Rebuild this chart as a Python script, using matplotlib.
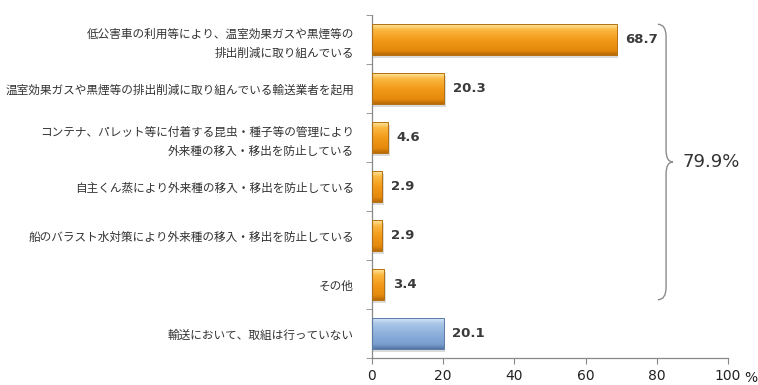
import matplotlib
matplotlib.use("Agg")
import matplotlib.pyplot as plt
import numpy as np
from matplotlib.colors import LinearSegmentedColormap
from matplotlib.path import Path
from matplotlib.patches import PathPatch

plt.rcParams['font.family'] = ['Noto Sans CJK JP', 'DejaVu Sans']

categories = [
    "低公害車の利用等により、温室効果ガスや黒煙等の\n排出削減に取り組んでいる",
    "温室効果ガスや黒煙等の排出削減に取り組んでいる輸送業者を起用",
    "コンテナ、パレット等に付着する昆虫・種子等の管理により\n外来種の移入・移出を防止している",
    "自主くん蒸により外来種の移入・移出を防止している",
    "船のバラスト水対策により外来種の移入・移出を防止している",
    "その他",
    "輸送において、取組は行っていない",
]
values = [68.7, 20.3, 4.6, 2.9, 2.9, 3.4, 20.1]
series_kind = ["orange"] * 6 + ["blue"]
total_label = "79.9%"
x_ticks = [0, 20, 40, 60, 80, 100]

orange_cmap = LinearSegmentedColormap.from_list(
    "orange_bar", [(0.0, "#FFE7A0"), (0.18, "#FBB840"), (0.5, "#F39A1A"),
                   (0.85, "#E58A0C"), (1.0, "#B86A06")])
blue_cmap = LinearSegmentedColormap.from_list(
    "blue_bar", [(0.0, "#D6E6F7"), (0.18, "#A9C6E8"), (0.5, "#8DB0DC"),
                 (0.85, "#7A9FCF"), (1.0, "#5677A6")])
edge_colors = {"orange": "#B5700F", "blue": "#5A7BAA"}
cmaps = {"orange": orange_cmap, "blue": blue_cmap}

fig = plt.figure(figsize=(7.58, 3.85), dpi=100)
ax = fig.add_axes([372 / 758, 1 - 358 / 385, 356 / 758, 343 / 385])

bar_h = 0.62
ys = np.arange(len(values))
grad = np.linspace(0, 1, 64).reshape(-1, 1)
for y, v, kind in zip(ys, values, series_kind):
    # soft drop shadow behind each bar
    ax.add_patch(plt.Rectangle((0.4, y - bar_h / 2 + 0.06), v, bar_h,
                               facecolor="#999999", alpha=0.35,
                               edgecolor="none", zorder=1))
    # vertical gradient fill for the bevelled look
    ax.imshow(grad, cmap=cmaps[kind], aspect="auto", interpolation="bilinear",
              extent=(0, v, y + bar_h / 2, y - bar_h / 2), zorder=2)
    ax.add_patch(plt.Rectangle((0, y - bar_h / 2), v, bar_h, facecolor="none",
                               edgecolor=edge_colors[kind], linewidth=0.7, zorder=3))
    ax.text(v + 2.4, y, f"{v:.1f}", va="center", ha="left", fontsize=9.5,
            fontweight="bold", color="#3A3A3A", family="DejaVu Sans")

ax.set_xlim(0, 100)
ax.set_ylim(len(values) - 0.5, -0.5)

ax.set_yticks(ys)
ax.set_yticklabels(categories, fontsize=8.4, color="#333333", linespacing=1.6)
ax.tick_params(axis="y", which="major", length=0, pad=13)
ax.set_yticks(np.arange(len(values) + 1) - 0.5, minor=True)
ax.tick_params(axis="y", which="minor", length=4, color="#888888", direction="out")

ax.set_xticks(x_ticks)
ax.set_xticklabels([str(t) for t in x_ticks], fontsize=10, color="#222222",
                   family="DejaVu Sans")
ax.tick_params(axis="x", length=4, color="#888888", direction="out", pad=4)

for s in ["top", "right"]:
    ax.spines[s].set_visible(False)
for s in ["left", "bottom"]:
    ax.spines[s].set_color("#888888")
    ax.spines[s].set_linewidth(0.9)

ax.text(104.6, len(values) - 0.5 + 0.27, "%", fontsize=10, color="#222222",
        va="top", ha="left", clip_on=False, family="DejaVu Sans")

# brace grouping the orange bars
top = -bar_h / 2
bot = 5 + bar_h / 2
mid = (top + bot) / 2
x0, x1, x2 = 80.3, 82.6, 84.5
c = 0.25
verts = [
    (x0, top), (x1, top), (x1, top + c),
    (x1, mid - c), (x1, mid), (x2, mid),
    (x1, mid), (x1, mid + c),
    (x1, bot - c), (x1, bot), (x0, bot),
]
codes = [Path.MOVETO, Path.CURVE3, Path.CURVE3,
         Path.LINETO, Path.CURVE3, Path.CURVE3,
         Path.CURVE3, Path.CURVE3,
         Path.LINETO, Path.CURVE3, Path.CURVE3]
ax.add_patch(PathPatch(Path(verts, codes), facecolor="none", edgecolor="#8C8C8C",
                       linewidth=1.0, clip_on=False, zorder=4))
ax.text(87.2, mid, total_label, fontsize=13, color="#333333", va="center",
        ha="left", family="DejaVu Sans", clip_on=False)

fig.savefig("out.png", dpi=100)
